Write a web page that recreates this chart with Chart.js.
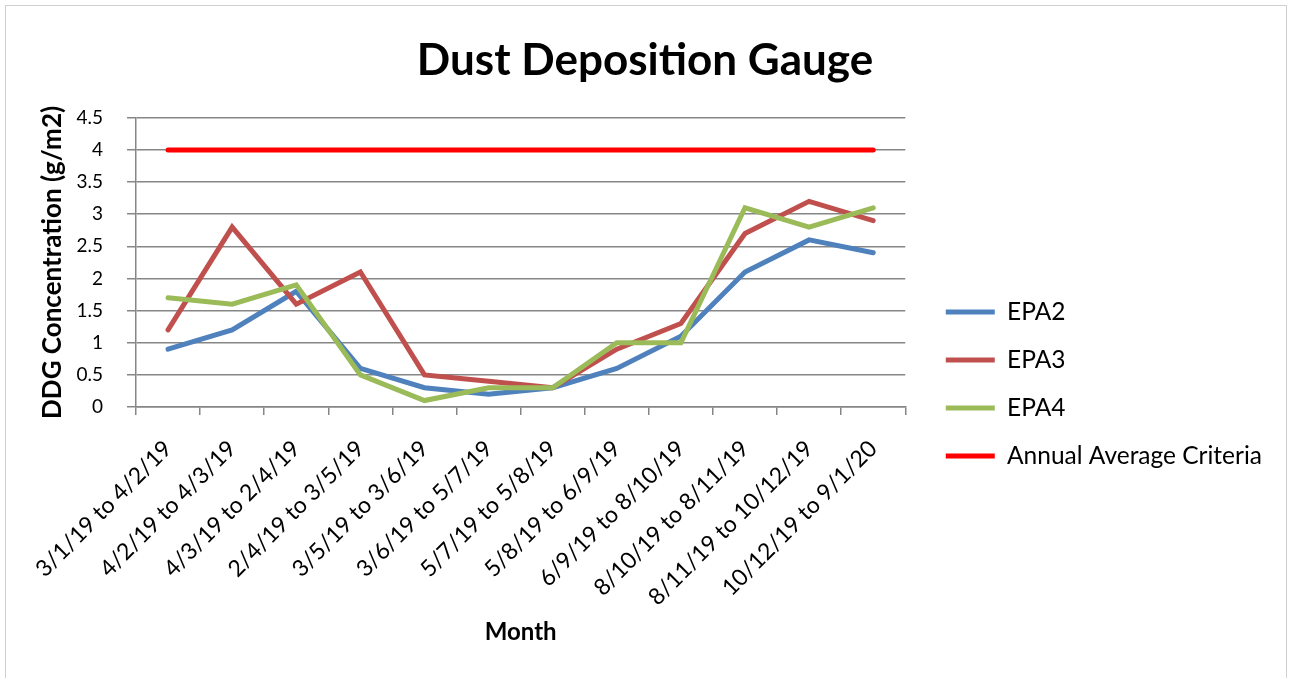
<!DOCTYPE html>
<html>
<head>
<meta charset="utf-8">
<script src="https://cdn.jsdelivr.net/npm/chart.js@4"></script>
<style>
html,body{margin:0;padding:0;background:#fff;}
#wrap{position:absolute;left:0;top:0;width:1290px;height:678px;}
#frame{position:absolute;left:5px;top:5px;width:1282px;height:680px;border:1px solid #d0d0d0;box-sizing:border-box;pointer-events:none;}
</style>
</head>
<body>
<div id="wrap"><canvas id="c" width="1290" height="678"></canvas><div id="frame"></div></div>
<script>
const categories = ["3/1/19 to 4/2/19","4/2/19 to 4/3/19","4/3/19 to 2/4/19","2/4/19 to 3/5/19","3/5/19 to 3/6/19","3/6/19 to 5/7/19","5/7/19 to 5/8/19","5/8/19 to 6/9/19","6/9/19 to 8/10/19","8/10/19 to 8/11/19","8/11/19 to 10/12/19","10/12/19 to 9/1/20"];
const epa2 = [0.9,1.2,1.8,0.6,0.3,0.2,0.3,0.6,1.1,2.1,2.6,2.4];
const epa3 = [1.2,2.8,1.6,2.1,0.5,0.4,0.3,0.9,1.3,2.7,3.2,2.9];
const epa4 = [1.7,1.6,1.9,0.5,0.1,0.3,0.3,1.0,1.0,3.1,2.8,3.1];
const criteria = [4,4,4,4,4,4,4,4,4,4,4,4];
const seriesNames = ["EPA2","EPA3","EPA4","Annual Average Criteria"];
const seriesColors = ["#4F81BD","#C0504D","#9BBB59","#FF0000"];

const FONT = "Lato, 'Open Sans', sans-serif";
const GRID = '#868686';
const allData = [epa2, epa3, epa4, criteria];
const datasets = allData.map((d,i)=>({
  label: seriesNames[i],
  data: d,
  borderColor: seriesColors[i],
  backgroundColor: seriesColors[i],
  borderWidth: 5,
  pointRadius: 0,
  tension: 0,
  fill: false,
  borderCapStyle: 'round',
  borderJoinStyle: 'miter',
  order: 3 - i
}));

new Chart(document.getElementById('c'), {
  type: 'line',
  data: { labels: categories, datasets },
  options: {
    responsive: false,
    animation: false,
    layout: { padding: { left: 18, right: 18, top: 0, bottom: 0 } },
    plugins: {
      title: {
        display: true,
        text: 'Dust Deposition Gauge',
        color: '#000',
        font: { family: FONT, size: 44, weight: 'bold' },
        padding: { top: 34, bottom: 31 }
      },
      legend: {
        position: 'right',
        align: 'center',
        maxWidth: 400,
        title: { display: true, text: ' ', font: { family: FONT, size: 10 }, padding: { top: 78, bottom: 0 } },
        labels: {
          color: '#000',
          font: { family: FONT, size: 24.5 },
          boxWidth: 49,
          boxHeight: 5,
          padding: 23.5,
          generateLabels(chart) {
            const items = Chart.defaults.plugins.legend.labels.generateLabels(chart);
            items.forEach(it => { it.lineWidth = 0; it.strokeStyle = 'rgba(0,0,0,0)'; });
            items.sort((a,b)=>a.datasetIndex-b.datasetIndex);
            return items;
          }
        }
      },
      tooltip: { enabled: false }
    },
    scales: {
      x: {
        offset: true,
        afterFit(scale) { scale.height = 271; },
        grid: { display: true, drawOnChartArea: false, drawTicks: true, tickLength: 8, color: GRID, lineWidth: 1.5, offset: true },
        border: { display: true, color: GRID, width: 1.5 },
        ticks: { color: '#000', font: { family: FONT, size: 23 }, maxRotation: 45, minRotation: 45, autoSkip: false, padding: 20 },
        title: { display: true, text: 'Month', color: '#000', font: { family: FONT, size: 24, weight: 'bold' }, padding: { top: 0, bottom: 31 } }
      },
      y: {
        min: 0, max: 4.5,
        afterFit(scale) { scale.width = 118; },
        ticks: { stepSize: 0.5, color: '#000', font: { family: FONT, size: 19 }, padding: 24, callback: v => String(v) },
        grid: { color: GRID, lineWidth: 1.5, drawTicks: true, tickLength: 9 },
        border: { display: true, color: GRID, width: 1.5 },
        title: { display: true, text: 'DDG Concentration (g/m2)', color: '#000', font: { family: FONT, size: 26, weight: 'bold' }, padding: { top: 19, bottom: 0 } }
      },
      spacer: {
        type: 'linear',
        position: 'right',
        display: true,
        afterFit(scale) { scale.width = 17; },
        grid: { display: false, drawOnChartArea: false },
        border: { display: false },
        ticks: { display: false }
      }
    }
  }
});
</script>
</body>
</html>
